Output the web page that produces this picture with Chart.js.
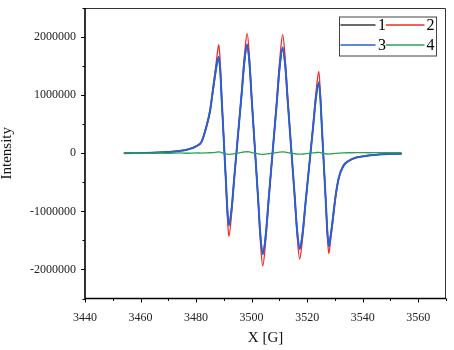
<!DOCTYPE html>
<html>
<head>
<meta charset="utf-8">
<title>EPR spectrum</title>
<script src="https://cdn.jsdelivr.net/npm/chart.js@4.4.1/dist/chart.umd.min.js"></script>
<style>
  html, body { margin: 0; padding: 0; background: #fff; }
  canvas { display: block; }
</style>
</head>
<body>
<canvas id="eprChart" width="454" height="350"></canvas>
<script>
// field positions (G), shared by all four spectra
const fieldG = [
  3454, 3458, 3462, 3466, 3470, 3474, 3477, 3480, 3482, 3483.5, 3485, 3486, 3487, 3487.6,
  3488.2, 3488.74, 3489.28, 3490.0, 3490.72, 3491.26,
  3491.8, 3492.79, 3493.78, 3495.1, 3496.42, 3497.41,
  3498.4, 3499.24, 3500.08, 3501.2, 3502.32, 3503.16,
  3504.0, 3505.08, 3506.16, 3507.6, 3509.04, 3510.12,
  3511.2, 3512.12, 3513.03, 3514.25, 3515.47, 3516.39,
  3517.3, 3518.34, 3519.37, 3520.75, 3522.13, 3523.17,
  3524.2, 3524.74, 3525.28, 3526.0, 3526.72, 3527.26,
  3527.8, 3528.4, 3529.2, 3530.2, 3531.4, 3533, 3535, 3538, 3542, 3546, 3550, 3554
];

const series1 = [
  0, 3000, 6000, 12000, 21000, 39000, 64000, 118000, 197000, 414000, 709000, 1044000, 1379000, 1546000,
  1635000, 1378000, 864000, 207000, -450000, -964000,
  -1221000, -946000, -394000, 310000, 1015000, 1566000,
  1842000, 1522000, 882000, 64000, -754000, -1394000,
  -1714000, -1399000, -767000, 39000, 846000, 1478000,
  1793000, 1485000, 870000, 84000, -702000, -1318000,
  -1625000, -1371000, -862000, -212000, 438000, 948000,
  1202000, 952000, 452000, -187000, -826000, -1326000,
  -1576000, -1428000, -1133000, -739000, -414000, -217000, -128000, -69000, -39000, -20000, -12000, -8000
];

const series2 = [
  0, 3000, 6000, 12000, 23000, 42000, 68000, 125000, 208000, 435000, 745000, 1100000, 1460000, 1700000,
  1870000, 1520000, 920000, 215000, -490000, -1070000,
  -1430000, -1040000, -430000, 315000, 1070000, 1680000,
  2060000, 1640000, 940000, 62000, -810000, -1510000,
  -1940000, -1500000, -820000, 45000, 910000, 1600000,
  2040000, 1610000, 940000, 95000, -745000, -1410000,
  -1820000, -1460000, -910000, -210000, 490000, 1040000,
  1410000, 1050000, 510000, -175000, -860000, -1400000,
  -1730000, -1510000, -1190000, -780000, -435000, -230000, -135000, -72000, -41000, -21000, -12000, -8000
];

const series3 = [
  0, 3000, 6000, 12000, 22000, 40000, 65000, 120000, 200000, 420000, 720000, 1060000, 1400000, 1570000,
  1660000, 1399000, 877000, 210000, -457000, -979000,
  -1240000, -960000, -400000, 315000, 1030000, 1590000,
  1870000, 1545000, 895000, 65000, -765000, -1415000,
  -1740000, -1420000, -779000, 40000, 859000, 1500000,
  1820000, 1508000, 883000, 85000, -713000, -1338000,
  -1650000, -1392000, -875000, -215000, 445000, 962000,
  1220000, 966000, 459000, -190000, -839000, -1346000,
  -1600000, -1450000, -1150000, -750000, -420000, -220000, -130000, -70000, -40000, -20000, -12000, -8000
];

const series4 = [
  0, 4000, -3000, 5000, -2000, 6000, 0, 5000, 3000, 6000, 9000, 12000, 16000, 20000,
  24000, 20000, 10000, 0, -10000, -16000,
  -18000, -14000, -6000, 4000, 14000, 22000,
  26000, 22000, 12000, 2000, -9000, -15000,
  -18000, -14000, -8000, 3000, 12000, 20000,
  24000, 20000, 11000, 2000, -8000, -14000,
  -16000, -13000, -8000, -1000, 7000, 12000,
  15000, 12000, 6000, -2000, -9000, -13000,
  -14000, -11000, -6000, -1000, 3000, 7000, 9000, 10000, 9000, 11000, 9000, 10000
];

const seriesLabels = ["1", "2", "3", "4"];
const seriesColors = ["#3a3a3a", "#ee2b2b", "#2a5fd6", "#2fa050"];
const seriesWidths = [1.4, 1.3, 2, 1.3];

const serif = '"Liberation Serif", "Times New Roman", serif';

const toPoints = ys => fieldG.map((x, i) => ({ x: x, y: ys[i] }));

// frame, outward ticks (major + minor) and the boxed legend
const frameAndLegend = {
  id: "frameAndLegend",
  afterDraw(chart) {
    const { ctx, chartArea: a, scales } = chart;
    const x = scales.x, y = scales.y;
    ctx.save();

    ctx.strokeStyle = "#000";
    ctx.lineWidth = 1;
    y.ticks.forEach(t => {
      const py = Math.round(y.getPixelForValue(t.value)) + 0.5;
      const len = Math.round(t.value) % 1000000 === 0 ? 4 : 2.5;
      ctx.beginPath();
      ctx.moveTo(a.left - len, py);
      ctx.lineTo(a.left, py);
      ctx.stroke();
    });
    x.ticks.forEach(t => {
      const px = Math.round(x.getPixelForValue(t.value)) + 0.5;
      const len = Math.round(t.value) % 20 === 0 ? 4 : 2.5;
      ctx.beginPath();
      ctx.moveTo(px, a.bottom);
      ctx.lineTo(px, a.bottom + len);
      ctx.stroke();
    });

    // top / right: thin
    ctx.strokeStyle = "#333";
    ctx.lineWidth = 1;
    ctx.beginPath();
    ctx.moveTo(a.left, a.top + 0.5);
    ctx.lineTo(a.right - 0.5, a.top + 0.5);
    ctx.lineTo(a.right - 0.5, a.bottom);
    ctx.stroke();

    // left / bottom: heavier
    ctx.strokeStyle = "#000";
    ctx.lineWidth = 1.6;
    ctx.beginPath();
    ctx.moveTo(a.left, a.top);
    ctx.lineTo(a.left, a.bottom);
    ctx.lineTo(a.right, a.bottom);
    ctx.stroke();

    // legend
    const bx = a.right - 107, by = a.top + 8.5, bw = 97, bh = 39;
    ctx.fillStyle = "#fff";
    ctx.fillRect(bx, by, bw, bh);
    ctx.strokeStyle = "#444";
    ctx.lineWidth = 1;
    ctx.strokeRect(bx + 0.5, by + 0.5, bw, bh);

    ctx.font = "16px " + serif;
    ctx.textBaseline = "middle";
    ctx.textAlign = "left";
    const cols = [{ l0: 1.5, l1: 36.5, tx: 39 }, { l0: 47, l1: 85.5, tx: 87.5 }];
    chart.data.datasets.forEach((ds, i) => {
      const c = cols[i % 2];
      const cy = by + 8.5 + Math.floor(i / 2) * 20;
      ctx.strokeStyle = ds.borderColor;
      ctx.lineWidth = 1.5;
      ctx.beginPath();
      ctx.moveTo(bx + c.l0, cy);
      ctx.lineTo(bx + c.l1, cy);
      ctx.stroke();
      ctx.fillStyle = "#000";
      ctx.fillText(ds.label, bx + c.tx, cy + 1);
    });

    ctx.restore();
  }
};

const spectra = [series1, series2, series3, series4];
const drawOrder = [3, 2, 1, 0]; // green on top, black at the bottom

new Chart(document.getElementById("eprChart"), {
  type: "line",
  data: {
    datasets: spectra.map((ys, i) => ({
      label: seriesLabels[i],
      data: toPoints(ys),
      borderColor: seriesColors[i],
      backgroundColor: seriesColors[i],
      borderWidth: seriesWidths[i],
      pointRadius: 0,
      cubicInterpolationMode: "monotone",
      fill: false,
      order: drawOrder[i]
    }))
  },
  options: {
    responsive: false,
    animation: false,
    layout: { padding: { left: 0, top: 8, right: 8, bottom: 0 } },
    plugins: {
      legend: { display: false },
      tooltip: { enabled: false }
    },
    scales: {
      x: {
        type: "linear",
        min: 3440,
        max: 3570,
        afterFit: s => { s.height = 51.5; s.paddingLeft = 0; s.paddingRight = 0; },
        grid: { display: false, drawTicks: false },
        border: { display: false },
        ticks: {
          stepSize: 10,
          autoSkip: false,
          maxRotation: 0,
          padding: 12,
          color: "#222",
          font: { family: serif, size: 12 },
          callback: v => (Math.round(v) % 20 === 0 ? String(v) : "")
        },
        title: {
          display: true,
          text: "X [G]",
          color: "#111",
          font: { family: serif, size: 15, lineHeight: 1 },
          padding: { top: 0, bottom: 4 }
        }
      },
      y: {
        type: "linear",
        min: -2500000,
        max: 2500000,
        afterFit: s => { s.width = 85; s.paddingTop = 0; s.paddingBottom = 0; },
        grid: { display: false, drawTicks: false },
        border: { display: false },
        ticks: {
          stepSize: 500000,
          autoSkip: false,
          padding: 9,
          color: "#222",
          font: { family: serif, size: 12 },
          callback: v => (Math.round(v) % 1000000 === 0 ? String(Math.round(v)) : "")
        },
        title: {
          display: true,
          text: "Intensity",
          color: "#111",
          font: { family: serif, size: 15, lineHeight: 1 },
          padding: { top: 0, bottom: 0 }
        }
      }
    }
  },
  plugins: [frameAndLegend]
});
</script>
</body>
</html>
